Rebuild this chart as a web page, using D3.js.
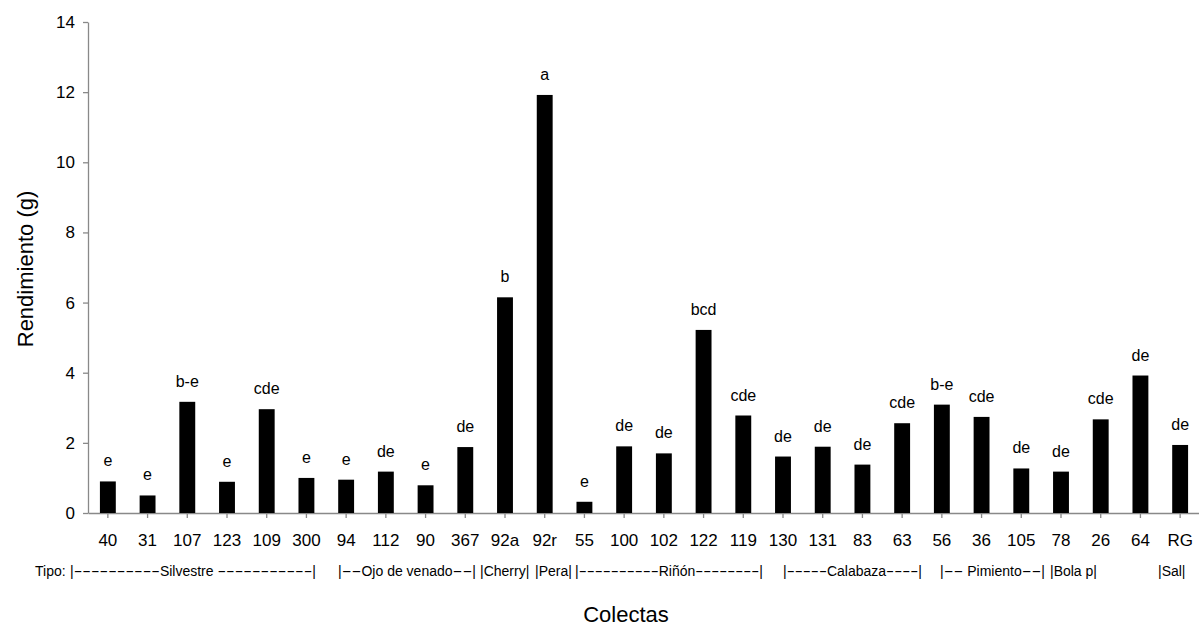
<!DOCTYPE html>
<html>
<head>
<meta charset="utf-8">
<title> Rendimiento por colecta </title>
<script src="https://d3js.org/d3.v7.min.js"></script>
<style>
body {
  margin: 0;
  background: white;
}
svg text {
  font-family: "Liberation Sans", Arial, sans-serif;
  fill: black;
}
.axis .domain, .axis line {
  stroke: #898989;
  stroke-width: 1.3;
}
</style>
</head>
<body>
<svg id="chart" width="1199" height="627"></svg>

<script>

// collections (x categories)
const colectas = ["40","31","107","123","109","300","94","112","90","367","92a","92r","55","100","102","122","119","130","131","83","63","56","36","105","78","26","64","RG"];

// yield in grams
const rendimiento = [0.90,0.50,3.17,0.89,2.96,1.00,0.95,1.18,0.79,1.88,6.15,11.92,0.32,1.90,1.70,5.22,2.78,1.61,1.89,1.38,2.56,3.09,2.74,1.27,1.18,2.67,3.92,1.94];

// letters from the mean comparison test
const letras = ["e","e","b-e","e","cde","e","e","de","e","de","b","a","e","de","de","bcd","cde","de","de","de","cde","b-e","cde","de","de","cde","de","de"];

const yTicks = [0,2,4,6,8,10,12,14];

// type row under the collections
const tipos = ["Tipo:","|----------Silvestre -----------|","|--Ojo de venado--|","|Cherry|","|Pera|","|----------Riñón--------|","|-----Calabaza----|","|-- Pimiento--|","|Bola p|","|Sal|"];

const svg = d3.select("svg#chart");
const margin = {top: 22, right: 0, bottom: 114, left: 88};
const width = +svg.attr("width");
const height = +svg.attr("height");
const chartWidth = 1200 - margin.left;
const chartHeight = height - margin.top - margin.bottom;

const chartArea = svg.append("g")
    .attr("transform", `translate(${margin.left},${margin.top})`);

// scales
const yScale = d3.scaleLinear().domain([0, 14]).range([chartHeight, 0]);
const xScale = d3.scaleBand().domain(colectas).range([0, chartWidth])
    .paddingInner(0.6).paddingOuter(0.3);

// axes
const leftAxis = d3.axisLeft(yScale).tickValues(yTicks).tickSize(5).tickPadding(8).tickSizeOuter(0);
chartArea.append("g").attr("class", "y axis")
    .call(leftAxis)
    .call(g => g.selectAll("text").style("font-size", "17px"));

const bottomAxis = d3.axisBottom(xScale).tickSize(5).tickPadding(16).tickSizeOuter(0);
chartArea.append("g").attr("class", "x axis")
    .attr("transform", `translate(0,${chartHeight})`)
    .call(bottomAxis)
    .call(g => g.selectAll("text").style("font-size", "17px"));

// bars
const data = colectas.map((c, i) => ({colecta: c, valor: rendimiento[i], letra: letras[i]}));

chartArea.selectAll("rect.bar")
    .data(data)
    .join("rect").attr("class", "bar")
    .attr("fill", "black")
    .attr("x", d => xScale(d.colecta))
    .attr("y", d => yScale(d.valor))
    .attr("width", xScale.bandwidth())
    .attr("height", d => yScale(0) - yScale(d.valor));

// letters above bars
chartArea.selectAll("text.letra")
    .data(data)
    .join("text").attr("class", "letra")
    .attr("text-anchor", "middle")
    .style("font-size", "16px")
    .attr("x", d => xScale(d.colecta) + xScale.bandwidth() / 2)
    .attr("y", d => yScale(d.valor) - 15)
    .text(d => d.letra);

// start and end x of each piece of the type row
const tipoX = [[35,66],[70,316],[338,476],[480,530],[535,571],[575,763],[783,922],[940,1045],[1050,1100],[1158,1196]];

// the dashes in the original are wider than normal hyphens,
// so only the dash runs get stretched to fill each piece
tipos.forEach((s, i) => {
  const parts = s.match(/-+|[^-]+/g);
  const g = svg.append("g").attr("class", "tipo");
  const nodes = parts.map(p => g.append("text")
      .attr("y", 576)
      .style("font-size", "14px")
      .style("white-space", "pre")
      .text(p));
  const widths = nodes.map(n => n.node().getComputedTextLength());
  const isDash = parts.map(p => p[0] === "-");
  const dashW = d3.sum(widths.filter((w, j) => isDash[j]));
  const wordW = d3.sum(widths.filter((w, j) => !isDash[j]));
  const k = dashW > 0 ? (tipoX[i][1] - tipoX[i][0] - wordW) / dashW : 1;
  let x = tipoX[i][0];
  nodes.forEach((n, j) => {
    n.attr("x", x);
    let w = widths[j];
    if (isDash[j]) {
      w = widths[j] * k;
      n.attr("textLength", w).attr("lengthAdjust", "spacingAndGlyphs");
    }
    x += w;
  });
});

// axis labels
svg.append("text")
    .attr("text-anchor", "middle")
    .attr("x", 626)
    .attr("y", 622)
    .style("font-size", "22px")
    .text("Colectas");

svg.append("text")
    .attr("text-anchor", "middle")
    .attr("transform", "translate(33,269) rotate(-90)")
    .style("font-size", "22px")
    .text("Rendimiento (g)");

</script>
</body>
</html>
